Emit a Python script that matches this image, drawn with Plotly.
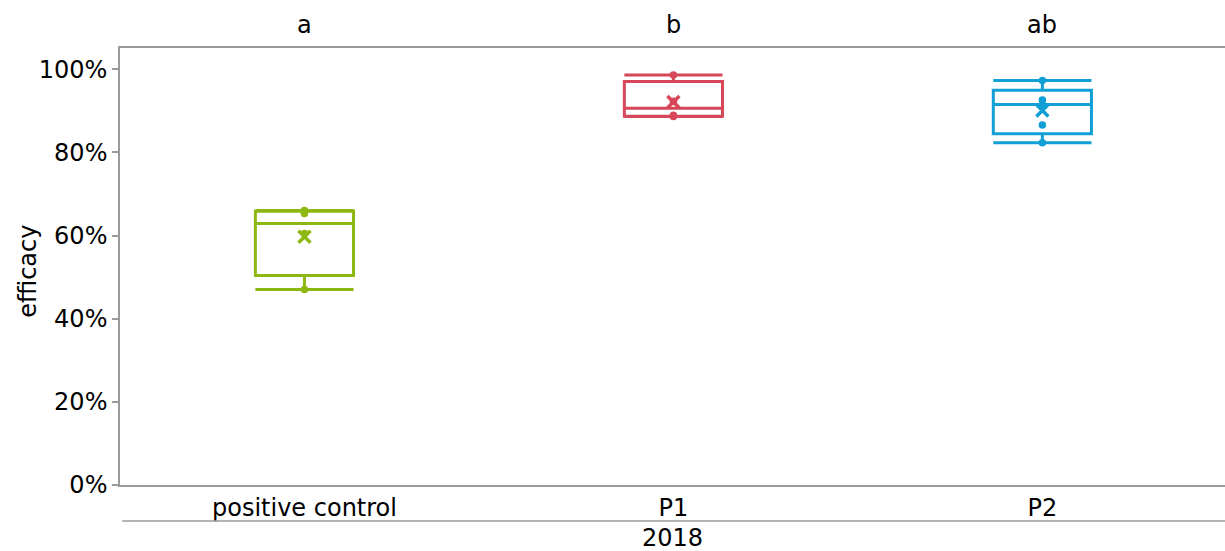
import numpy as np
import plotly.graph_objects as go

# Treatments and their efficacy measurements (%)
categories = ["positive control", "P1", "P2"]
positive_control = [47.0, 60.5, 65.3, 66.0]
p1 = [88.6, 88.9, 92.3, 98.6]
p2 = [82.3, 86.6, 91.5, 92.6, 97.3]
series = [positive_control, p1, p2]

# Significance letters above each box
letters = ["a", "b", "ab"]
year_label = "2018"
y_ticks = [0, 20, 40, 60, 80, 100]
y_tick_text = ["0%", "20%", "40%", "60%", "80%", "100%"]

colors = ["#8DB812", "#D64859", "#119FD5"]
FONT = "DejaVu Sans, Liberation Sans, Arial, sans-serif"
FSIZE = 24
AXIS_GREY = "#9a9a9a"

fig = go.Figure()

for cat, vals, col in zip(categories, series, colors):
    v = np.sort(np.asarray(vals, dtype=float))
    # exclusive-median quartiles, (n+1)p positions
    q1, med, q3 = np.quantile(v, [0.25, 0.5, 0.75], method="weibull")
    iqr = q3 - q1
    inside = v[(v >= q1 - 1.5 * iqr) & (v <= q3 + 1.5 * iqr)]
    fig.add_trace(go.Box(
        x=[cat], q1=[q1], median=[med], q3=[q3],
        lowerfence=[inside.min()], upperfence=[inside.max()],
        boxpoints=False, width=0.266, whiskerwidth=1,
        line=dict(color=col, width=3), fillcolor="rgba(0,0,0,0)",
        showlegend=False, hoverinfo="skip",
    ))
    # inner points
    fig.add_trace(go.Scatter(
        x=[cat] * len(v), y=v, mode="markers",
        marker=dict(color=col, size=7.5), showlegend=False,
    ))
    # mean marker
    fig.add_trace(go.Scatter(
        x=[cat], y=[v.mean()], mode="markers",
        marker=dict(symbol="x-thin", size=12, line=dict(color=col, width=3.5)),
        showlegend=False,
    ))

for cat, letter in zip(categories, letters):
    fig.add_annotation(x=cat, y=1.0526, xref="x", yref="paper", text=letter,
                       showarrow=False, yanchor="middle",
                       font=dict(family=FONT, size=FSIZE, color="#000"))

# y-axis title
fig.add_annotation(x=-0.0833, y=0.49, xref="paper", yref="paper", text="efficacy",
                   textangle=-90, showarrow=False, xanchor="center", yanchor="middle",
                   font=dict(family=FONT, size=FSIZE, color="#000"))

# group label under the category labels
fig.add_shape(type="line", xref="paper", yref="paper", x0=0.002, x1=1.0,
              y0=-0.0824, y1=-0.0824, line=dict(color=AXIS_GREY, width=1.5))
fig.add_annotation(x=0.5, y=-0.122, xref="paper", yref="paper", text=year_label,
                   showarrow=False, yanchor="middle",
                   font=dict(family=FONT, size=FSIZE, color="#000"))

fig.update_layout(
    width=1225, height=551,
    margin=dict(l=120, r=0, t=48, b=66),
    paper_bgcolor="white", plot_bgcolor="white",
    boxmode="overlay",
    font=dict(family=FONT, size=FSIZE, color="#000"),
    xaxis=dict(type="category", categoryorder="array", categoryarray=categories,
               range=[-0.5, 2.495], showline=True, linecolor=AXIS_GREY, linewidth=1.5,
               mirror=True, ticks="", showgrid=False, zeroline=False,
               tickfont=dict(family=FONT, size=FSIZE, color="#000")),
    yaxis=dict(range=[0, 105.1], tickvals=y_ticks, ticktext=y_tick_text,
               showline=True, linecolor=AXIS_GREY, linewidth=1.5,
               ticks="outside", ticklen=6, tickcolor=AXIS_GREY, tickwidth=1.5,
               showgrid=False, zeroline=False,
               tickfont=dict(family=FONT, size=FSIZE, color="#000")),
)

fig.write_html("out.html")
